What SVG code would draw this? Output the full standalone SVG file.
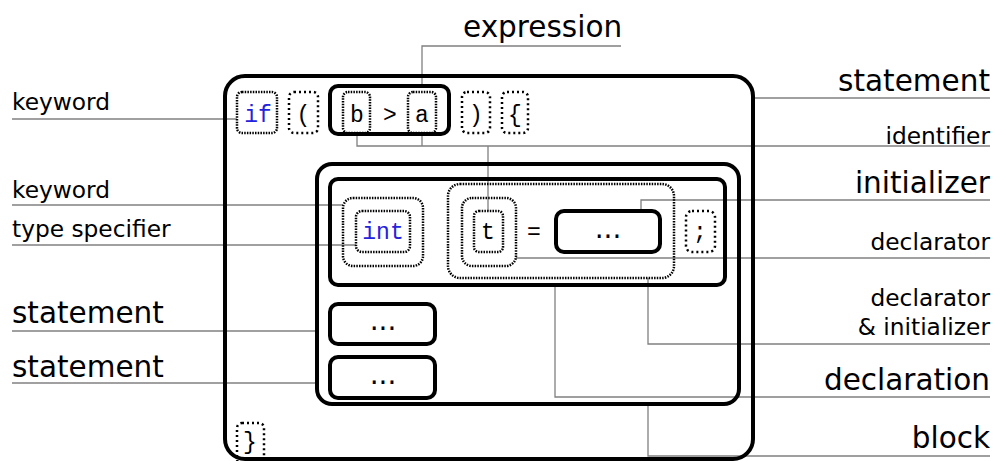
<svg xmlns="http://www.w3.org/2000/svg" width="994" height="461" viewBox="0 0 994 461">
<style>
.solid{fill:none;stroke:#000;stroke-width:4}
.dense{fill:none;stroke:#000;stroke-width:2.5;stroke-dasharray:1.5 1.2}
.sparse{fill:none;stroke:#000;stroke-width:2.5;stroke-dasharray:2 3}
.code{font-family:"Liberation Mono","DejaVu Sans Mono",monospace;font-size:23px;text-anchor:middle;fill:#000}
.kw{fill:#2323dd}
.dots{font-family:"DejaVu Sans",sans-serif;font-size:28px;text-anchor:middle;fill:#000}
.lbl{font-family:"DejaVu Sans",sans-serif;font-size:23.3px;fill:#000}
.big{font-family:"DejaVu Sans",sans-serif;font-size:29.5px;fill:#000}
.r{text-anchor:end}
.conn{fill:none;stroke:#808080;stroke-width:1.3}
</style>
<rect width="994" height="461" fill="#fff"/>

<g id="connectors">
<path class="conn" d="M12,119 H237"/>
<path class="conn" d="M12,205 H343"/>
<path class="conn" d="M12,245 H356"/>
<path class="conn" d="M12,331 H317"/>
<path class="conn" d="M12,383 H317"/>
<path class="conn" d="M422,86 V46 H621"/>
<path class="conn" d="M753,98 H990"/>
<path class="conn" d="M357,133 V146 H990 M422,133 V146 M488,146 V211"/>
<path class="conn" d="M641,211 V200 H990"/>
<path class="conn" d="M516,258 H990"/>
<path class="conn" d="M648,278 V344 H990"/>
<path class="conn" d="M555,285 V397 H990"/>
<path class="conn" d="M648,404 V456 H990"/>
</g>

<g id="if-statement"><rect class="solid" x="225" y="76" width="528" height="383" rx="20"/></g>
<g id="kw-if"><rect class="dense" x="237" y="92" width="40" height="41" rx="5"/><text class="code kw" x="258" y="122">if</text></g>
<g id="lparen"><rect class="sparse" x="289" y="92" width="29" height="41" rx="5"/><text class="code" x="303.5" y="122">(</text></g>
<g id="expression"><rect class="solid" x="330" y="86" width="119" height="48" rx="8"/><text class="code" x="390" y="122">&gt;</text></g>
<g id="id-b"><rect class="dense" x="343" y="92" width="27" height="41" rx="5"/><text class="code" x="357" y="122">b</text></g>
<g id="id-a"><rect class="dense" x="408" y="92" width="28" height="41" rx="5"/><text class="code" x="422" y="122">a</text></g>
<g id="rparen"><rect class="sparse" x="462" y="92" width="28" height="41" rx="5"/><text class="code" x="476" y="122">)</text></g>
<g id="lbrace"><rect class="sparse" x="502" y="92" width="26" height="41" rx="5"/><text class="code" x="515" y="122">{</text></g>

<g id="block"><rect class="solid" x="317" y="164" width="422" height="240" rx="15"/></g>
<g id="declaration"><rect class="solid" x="330" y="179" width="395" height="106" rx="8"/></g>
<g id="type-specifier"><rect class="dense" x="343" y="198" width="80" height="68" rx="10"/></g>
<g id="kw-int"><rect class="dense" x="356" y="211" width="54" height="41" rx="6"/><text class="code kw" x="383" y="239">int</text></g>
<g id="declarator-initializer"><rect class="dense" x="448" y="184" width="226" height="94" rx="12"/><text class="code" x="534" y="239">=</text></g>
<g id="declarator"><rect class="dense" x="462" y="198" width="54" height="68" rx="10"/></g>
<g id="id-t"><rect class="dense" x="474" y="211" width="29" height="41" rx="5"/><text class="code" x="488" y="239">t</text></g>
<g id="initializer"><rect class="solid" x="556" y="211" width="104" height="41" rx="8"/><text class="dots" x="608" y="238">...</text></g>
<g id="semicolon"><rect class="sparse" x="686" y="211" width="29" height="41" rx="6"/><text class="code" x="700" y="239">;</text></g>
<g id="statement-1"><rect class="solid" x="330" y="304" width="105" height="40" rx="8"/><text class="dots" x="383" y="330">...</text></g>
<g id="statement-2"><rect class="solid" x="330" y="357" width="105" height="41" rx="8"/><text class="dots" x="383" y="384">...</text></g>
<g id="rbrace"><rect class="sparse" x="237" y="423" width="27" height="41" rx="5"/><text class="code" x="250" y="449">}</text></g>

<g id="labels">
<text class="lbl" x="12" y="110">keyword</text>
<text class="lbl" x="12" y="198">keyword</text>
<text class="lbl" x="12" y="237">type specifier</text>
<text class="big" x="12" y="323">statement</text>
<text class="big" x="12" y="377">statement</text>
<text class="big" x="463" y="37">expression</text>
<text class="big r" x="990" y="91">statement</text>
<text class="lbl r" x="990" y="144">identifier</text>
<text class="big r" x="990" y="193">initializer</text>
<text class="lbl r" x="990" y="250">declarator</text>
<text class="lbl r" x="990" y="306">declarator</text>
<text class="lbl r" x="990" y="335">&amp; initializer</text>
<text class="big r" x="990" y="390">declaration</text>
<text class="big r" x="990" y="448">block</text>
</g>
</svg>
